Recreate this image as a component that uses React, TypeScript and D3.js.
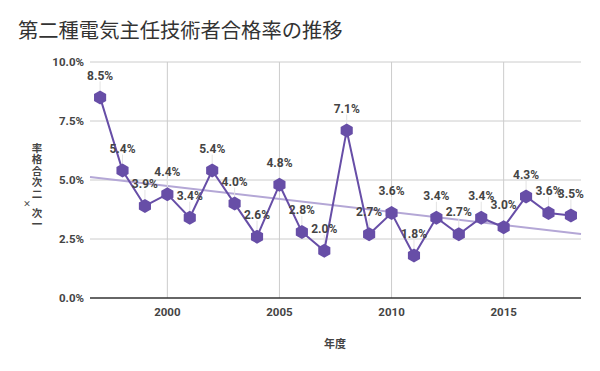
import React from "react";
import * as d3 from "d3";

const years = [1997, 1998, 1999, 2000, 2001, 2002, 2003, 2004, 2005, 2006, 2007, 2008, 2009, 2010, 2011, 2012, 2013, 2014, 2015, 2016, 2017, 2018];
const rates = [8.5, 5.4, 3.9, 4.4, 3.4, 5.4, 4.0, 2.6, 4.8, 2.8, 2.0, 7.1, 2.7, 3.6, 1.8, 3.4, 2.7, 3.4, 3.0, 4.3, 3.6, 3.5];
const yTicks = [0, 2.5, 5, 7.5, 10];
const xTicks = [2000, 2005, 2010, 2015];
const title = "第二種電気主任技術者合格率の推移";
const xTitle = "年度";
const yTitleChars = ["一", "次", "×", "二", "次", "合", "格", "率"];

const W = 600;
const H = 371;
const left = 90;
const right = 581;
const top = 62;
const bottom = 298;

const PURPLE = "#674ea7";
const TREND = "#b4a7d6";
const TEXT = "#444444";
const CJK = "'Noto Sans CJK JP', 'Noto Sans', sans-serif";
const LAT = "Roboto, 'Noto Sans', sans-serif";

export default function App() {
  const x = d3.scaleLinear().domain([1996.55, 2018.45]).range([left, right]);
  const y = d3.scaleLinear().domain([0, 10]).range([bottom, top]);

  const data = years.map((yr, i) => ({ yr, v: rates[i] }));
  const mx = d3.mean(years) as number;
  const my = d3.mean(rates) as number;
  const num = d3.sum(data, (d) => (d.yr - mx) * (d.v - my));
  const den = d3.sum(data, (d) => (d.yr - mx) * (d.yr - mx));
  const slope = num / den;
  const icpt = my - slope * mx;
  const [d0, d1] = x.domain();
  const trend = [d0, d1].map((t) => ({ yr: t, v: icpt + slope * t }));

  const line = d3
    .line<{ yr: number; v: number }>()
    .x((d) => x(d.yr))
    .y((d) => y(d.v));

  const hexR = 7;
  const hexPts = d3.range(6).map((k) => {
    const a = (Math.PI / 3) * k - Math.PI / 2;
    return [hexR * Math.cos(a), hexR * Math.sin(a)] as [number, number];
  });
  const hexPath = d3.line()(hexPts) + "Z";

  // y title positions (bottom to top), baseline offsets
  const yTitlePos = [224, 212.5, 204, 194, 182, 170.5, 159, 147.5];

  return (
    <svg width={W} height={H} style={{ display: "block", position: "absolute", left: 0, top: 0 }}>
      <rect width={W} height={H} fill="#ffffff" />
      <text x={18} y={37.5} fontFamily={CJK} fontSize={20.3} fill="#333333">
        {title}
      </text>

      {/* grid */}
      {yTicks.map((t) =>
        t === 0 ? null : (
          <line key={"gy" + t} x1={left} x2={right} y1={y(t)} y2={y(t)} stroke="#cccccc" strokeWidth={1} />
        )
      )}
      {xTicks.map((t) => (
        <line key={"gx" + t} x1={x(t)} x2={x(t)} y1={top} y2={bottom} stroke="#cccccc" strokeWidth={1} />
      ))}

      {/* y tick labels */}
      {yTicks.map((t) => (
        <text
          key={"yt" + t}
          x={84}
          y={y(t)}
          dy="0.35em"
          textAnchor="end"
          fontFamily={LAT}
          fontWeight="bold"
          fontSize={11.5}
          fill={TEXT}
        >
          {t.toFixed(1) + "%"}
        </text>
      ))}

      {/* x tick labels */}
      {xTicks.map((t) => (
        <text
          key={"xt" + t}
          x={x(t)}
          y={312}
          dy="0.35em"
          textAnchor="middle"
          fontFamily={LAT}
          fontWeight="bold"
          fontSize={11.5}
          fill={TEXT}
        >
          {t}
        </text>
      ))}

      <text x={335} y={344} dy="0.35em" textAnchor="middle" fontFamily={CJK} fontWeight="bold" fontSize={11} fill={TEXT}>
        {xTitle}
      </text>

      <text textAnchor="middle" fontFamily={CJK} fontWeight="bold" fontSize={10.5} fill={TEXT}>
        {yTitleChars.map((c, i) => (
          <tspan
            key={"yc" + i}
            x={c === "×" ? 27 : 37}
            y={yTitlePos[i] + (c === "×" ? 3 : 4)}
            fontSize={c === "×" ? 8 : 10.5}
          >
            {c}
          </tspan>
        ))}
      </text>

      {/* trendline */}
      <path d={line(trend) || ""} fill="none" stroke={TREND} strokeWidth={2} />

      {/* axis baseline */}
      <line x1={left} x2={right} y1={bottom} y2={bottom} stroke="#333333" strokeWidth={1.5} />

      {/* leaders */}
      {data.map((d) => (
        <line
          key={"ld" + d.yr}
          x1={x(d.yr)}
          x2={x(d.yr)}
          y1={y(d.v) - 16}
          y2={y(d.v) - 7}
          stroke="#e3e3e3"
          strokeWidth={1}
        />
      ))}

      {/* series line */}
      <path d={line(data) || ""} fill="none" stroke={PURPLE} strokeWidth={2} />

      {data.map((d) => (
        <path key={"mk" + d.yr} d={hexPath} transform={`translate(${x(d.yr)},${y(d.v)})`} fill={PURPLE} />
      ))}

      {data.map((d) => (
        <text
          key={"lb" + d.yr}
          x={x(d.yr)}
          y={y(d.v) - 22}
          dy="0.35em"
          textAnchor="middle"
          fontFamily={LAT}
          fontWeight="bold"
          fontSize={12}
          fill={TEXT}
        >
          {d.v.toFixed(1) + "%"}
        </text>
      ))}
    </svg>
  );
}
